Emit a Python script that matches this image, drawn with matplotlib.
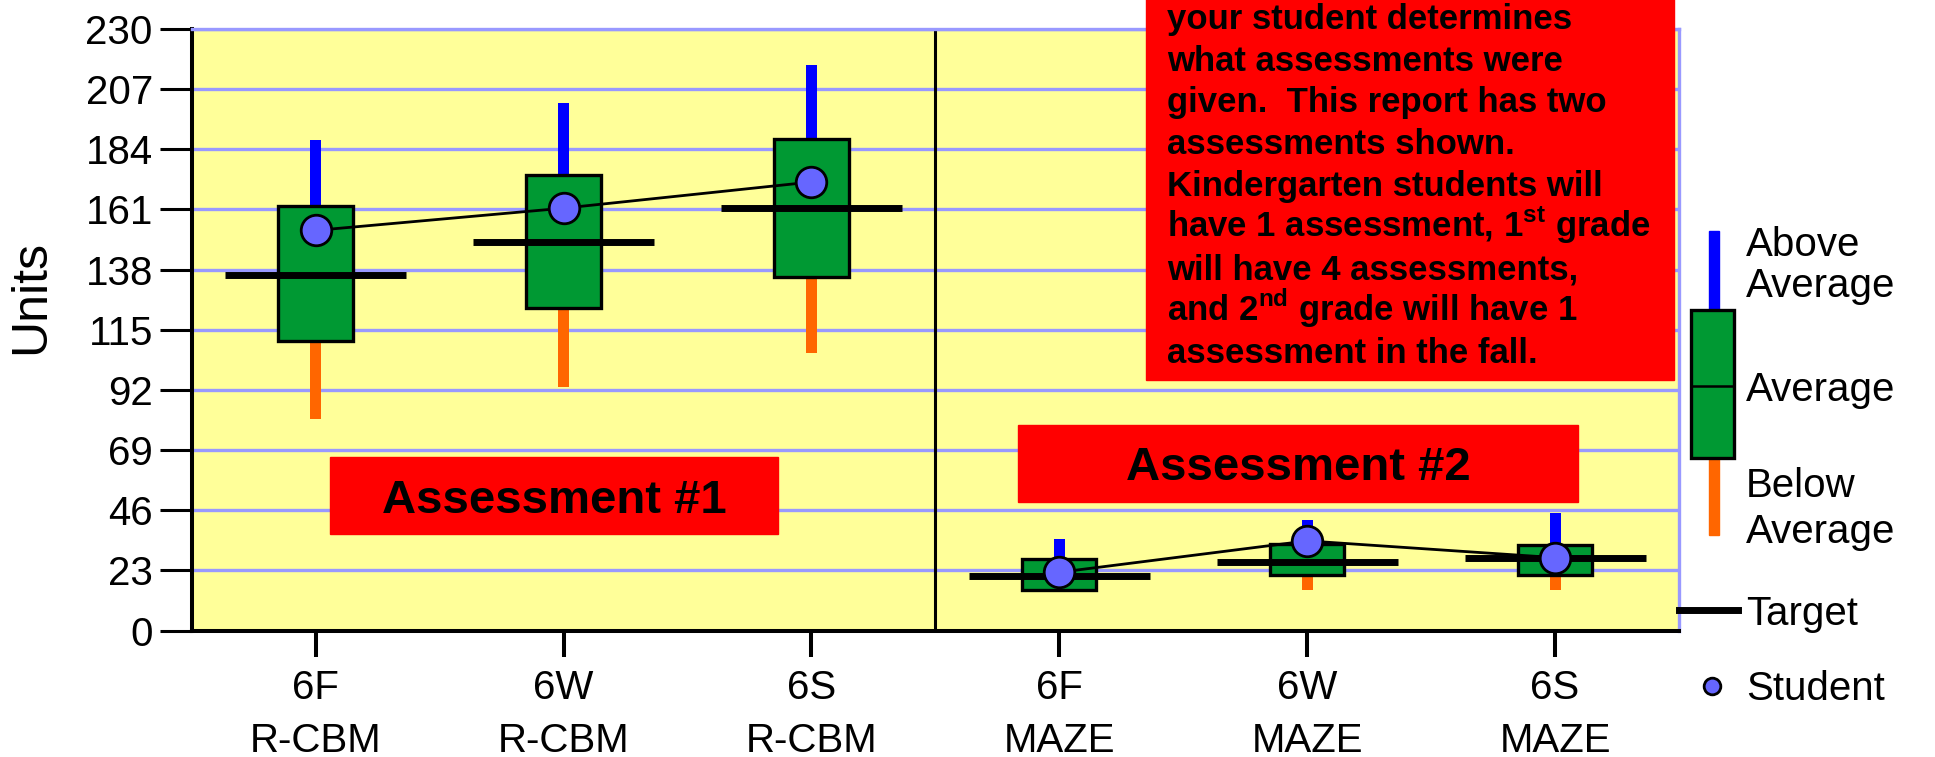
import matplotlib
matplotlib.use("Agg")
import matplotlib.pyplot as plt
import numpy as np
from matplotlib.patches import Rectangle

# ==========================================================
# DATA
# ==========================================================
categorias = ["6F\nR-CBM", "6W\nR-CBM", "6S\nR-CBM",
              "6F\nMAZE", "6W\nMAZE", "6S\nMAZE"]
grupo = [1, 1, 1, 2, 2, 2]

below_min = [81.0, 93.0, 106.0, 15.5, 15.5, 15.5]
box_low = [110.6, 123.3, 135.0, 15.5, 21.4, 21.4]
box_high = [162.4, 174.1, 188.1, 27.5, 33.0, 32.9]
above_max = [187.6, 201.8, 216.2, 35.0, 42.3, 44.9]
target = [135.9, 148.6, 161.5, 20.7, 26.4, 27.9]
student = [153.0, 161.5, 171.5, 22.3, 34.3, 27.9]

y_ticks = list(range(0, 231, 23))

nota = [
    "your student determines",
    "what assessments were",
    "given.  This report has two",
    "assessments shown.",
    "Kindergarten students will",
    r"have 1 assessment, 1$^{\mathdefault{st}}$ grade",
    "will have 4 assessments,",
    r"and 2$^{\mathdefault{nd}}$ grade will have 1",
    "assessment in the fall.",
]

# ==========================================================
# COLORS
# ==========================================================
AMARILLO = "#FFFF99"
LAVANDA = "#9999FF"
VERDE = "#009933"
AZUL = "#0000FF"
NARANJA = "#FF6600"
MORADO = "#6666FF"
ROJO = "#FF0000"

plt.rcParams["font.family"] = ["Liberation Sans", "DejaVu Sans"]

W, H = 1935, 757
fig = plt.figure(figsize=(W / 100, H / 100), dpi=100)
fig.patch.set_facecolor("white")

ax = fig.add_axes([0.09907, 0.16698, 0.76863, 0.79472])
ax.set_facecolor(AMARILLO)
ax.set_xlim(0.5, 6.5)
ax.set_ylim(0, 230)

x = np.arange(1, len(categorias) + 1)
b_low = np.array(box_low)
b_high = np.array(box_high)

# whiskers
ax.bar(x, np.array(above_max) - b_high, bottom=b_high, width=0.044,
       color=AZUL, zorder=2)
ax.bar(x, b_low - np.array(below_min), bottom=below_min, width=0.044,
       color=NARANJA, zorder=2)

# boxes
ax.bar(x, b_high - b_low, bottom=b_low, width=0.30, color=VERDE,
       edgecolor="black", linewidth=2.4, zorder=3)

# target
ax.hlines(target, x - 0.365, x + 0.365, colors="black", linewidth=5, zorder=4)

# student line per assessment
g = np.array(grupo)
for k in sorted(set(grupo)):
    m = g == k
    ax.plot(x[m], np.array(student)[m], color="black", linewidth=2, zorder=5)

ax.plot(x, student, linestyle="none", marker="o", markersize=22,
        markerfacecolor=MORADO, markeredgecolor="black", markeredgewidth=2,
        zorder=6)

# divider
ax.axvline(3.5, color="black", linewidth=2.2, zorder=2)

# axes styling
ax.set_yticks(y_ticks)
ax.set_xticks(x)
ax.set_xticklabels(categorias, linespacing=1.5)
ax.yaxis.grid(True, color=LAVANDA, linewidth=2.4)
ax.set_axisbelow(True)
ax.tick_params(axis="y", length=23, width=2.2, pad=5, labelsize=29)
ax.tick_params(axis="x", length=19, width=2.9, pad=8.5, labelsize=29)
for s in ["left", "bottom"]:
    ax.spines[s].set_color("black")
    ax.spines[s].set_linewidth(2.9)
for s in ["top", "right"]:
    ax.spines[s].set_color(LAVANDA)
    ax.spines[s].set_linewidth(2.4)

# ==========================================================
# OVERLAY (pixel coordinates)
# ==========================================================
ov = fig.add_axes([0, 0, 1, 1], zorder=5)
ov.set_xlim(0, W)
ov.set_ylim(H, 0)
ov.axis("off")

ov.text(31, 297, "Units", rotation=90, fontsize=36, ha="center", va="center")

# annotation boxes
ov.add_patch(Rectangle((330, 457), 448, 77, color=ROJO, zorder=2))
ov.text(554, 513, "Assessment #1", fontsize=34, fontweight="bold",
        ha="center", va="baseline", zorder=3)
ov.add_patch(Rectangle((1018, 425), 560, 77, color=ROJO, zorder=2))
ov.text(1298, 480, "Assessment #2", fontsize=34, fontweight="bold",
        ha="center", va="baseline", zorder=3)

ov.add_patch(Rectangle((1146, -10), 528, 390, color=ROJO, zorder=2))
for i, linea in enumerate(nota):
    ov.text(1167, 29 + 41.7 * i, linea, fontsize=25, fontweight="bold",
            ha="left", va="baseline", zorder=3)

# legend
ov.add_patch(Rectangle((1709, 231), 10, 79, color=AZUL))
ov.add_patch(Rectangle((1709, 458), 10, 77, color=NARANJA))
ov.add_patch(Rectangle((1691, 310), 43, 148, facecolor=VERDE,
                       edgecolor="black", linewidth=2.4))
ov.plot([1691, 1734], [386, 386], color="black", linewidth=1.8)
ov.plot([1679, 1738], [610, 610], color="black", linewidth=5)
ov.plot([1712], [686], marker="o", markersize=12, markerfacecolor=MORADO,
        markeredgecolor="black", markeredgewidth=2)

leyenda = [("Above", 256), ("Average", 297), ("Average", 401),
           ("Below", 497), ("Average", 543), ("Target", 625),
           ("Student", 700)]
for txt, yb in leyenda:
    ov.text(1746, yb, txt, fontsize=29, ha="left", va="baseline")

fig.savefig("out.png", dpi=100, facecolor="white")
